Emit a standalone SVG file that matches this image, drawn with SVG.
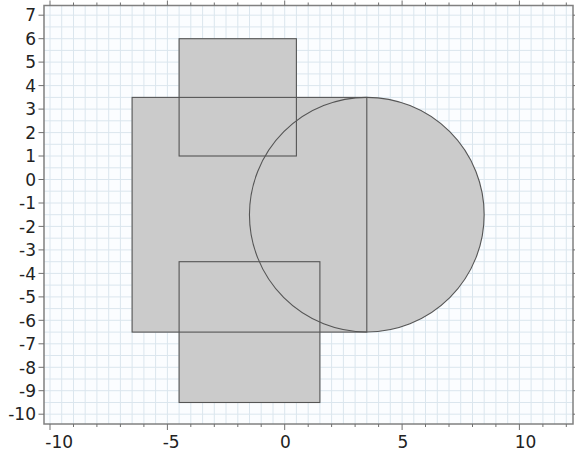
<svg xmlns="http://www.w3.org/2000/svg" width="575" height="452" viewBox="0 0 575 452">
<style>
.grid{stroke:#dbe6ee;stroke-width:1;fill:none}
.tick{stroke:#707070;stroke-width:1;fill:none}
.frame{stroke:#808080;stroke-width:1.5;fill:none}
.fillg{fill:#cbcbcb;stroke:none}
.edge{fill:none;stroke:#555555;stroke-width:1.1}
.lbl{font-family:"DejaVu Sans",sans-serif;font-size:17px;fill:#222222}
.yl{text-anchor:end}
</style>
<rect x="0" y="0" width="575" height="452" fill="#ffffff"/>
<g id="plot-bg">
<rect x="44" y="5.5" width="529" height="418.5" fill="#fbfdff"/>
<path class="grid" d="M50 5.5V424M61.7 5.5V424M73.5 5.5V424M85.2 5.5V424M96.9 5.5V424M108.7 5.5V424M120.4 5.5V424M132.1 5.5V424M143.9 5.5V424M155.6 5.5V424M167.4 5.5V424M179.1 5.5V424M190.8 5.5V424M202.6 5.5V424M214.3 5.5V424M226 5.5V424M237.8 5.5V424M249.5 5.5V424M261.2 5.5V424M273 5.5V424M284.7 5.5V424M296.4 5.5V424M308.2 5.5V424M319.9 5.5V424M331.6 5.5V424M343.4 5.5V424M355.1 5.5V424M366.8 5.5V424M378.6 5.5V424M390.3 5.5V424M402.1 5.5V424M413.8 5.5V424M425.5 5.5V424M437.3 5.5V424M449 5.5V424M460.7 5.5V424M472.5 5.5V424M484.2 5.5V424M495.9 5.5V424M507.7 5.5V424M519.4 5.5V424M531.1 5.5V424M542.9 5.5V424M554.6 5.5V424M566.3 5.5V424
M44 15.2H573M44 26.9H573M44 38.7H573M44 50.4H573M44 62.1H573M44 73.9H573M44 85.6H573M44 97.4H573M44 109.1H573M44 120.8H573M44 132.6H573M44 144.3H573M44 156H573M44 167.8H573M44 179.5H573M44 191.2H573M44 203H573M44 214.7H573M44 226.4H573M44 238.2H573M44 249.9H573M44 261.7H573M44 273.4H573M44 285.1H573M44 296.9H573M44 308.6H573M44 320.3H573M44 332.1H573M44 343.8H573M44 355.5H573M44 367.3H573M44 379H573M44 390.7H573M44 402.5H573M44 414.2H573"/>
</g>
<g id="shapes-fill">
<rect class="fillg" x="132.1" y="97.4" width="234.7" height="234.7"/>
<rect class="fillg" x="179.1" y="38.7" width="117.3" height="117.3"/>
<rect class="fillg" x="179.1" y="261.7" width="140.8" height="140.8"/>
<circle class="fillg" cx="366.8" cy="214.7" r="117.35"/>
</g>
<g id="square">
<rect class="edge" x="132.1" y="97.4" width="234.7" height="234.7"/>
</g>
<g id="rect-top">
<rect class="edge" x="179.1" y="38.7" width="117.3" height="117.3"/>
</g>
<g id="rect-bottom">
<rect class="edge" x="179.1" y="261.7" width="140.8" height="140.8"/>
</g>
<g id="circle">
<circle class="edge" cx="366.8" cy="214.7" r="117.35"/>
</g>
<g id="axes">
<rect class="frame" x="44" y="5.5" width="529" height="418.5"/>
<path class="tick" d="M38.5 15.2H44M38.5 38.7H44M38.5 62.1H44M38.5 85.6H44M38.5 109.1H44M38.5 132.6H44M38.5 156H44M38.5 179.5H44M38.5 203H44M38.5 226.4H44M38.5 249.9H44M38.5 273.4H44M38.5 296.9H44M38.5 320.3H44M38.5 343.8H44M38.5 367.3H44M38.5 390.7H44M38.5 414.2H44
M573 15.2H577M573 38.7H577M573 62.1H577M573 85.6H577M573 109.1H577M573 132.6H577M573 156H577M573 179.5H577M573 203H577M573 226.4H577M573 249.9H577M573 273.4H577M573 296.9H577M573 320.3H577M573 343.8H577M573 367.3H577M573 390.7H577M573 414.2H577
M50 424V430M167.4 424V430M284.7 424V430M402.1 424V430M519.4 424V430
M73.5 424V427M96.9 424V427M120.4 424V427M143.9 424V427M190.8 424V427M214.3 424V427M237.8 424V427M261.2 424V427M308.2 424V427M331.6 424V427M355.1 424V427M378.6 424V427M425.5 424V427M449 424V427M472.5 424V427M495.9 424V427M542.9 424V427M566.3 424V427
M50 5.5V0.5M167.4 5.5V0.5M284.7 5.5V0.5M402.1 5.5V0.5M519.4 5.5V0.5
M73.5 5.5V2.5M96.9 5.5V2.5M120.4 5.5V2.5M143.9 5.5V2.5M190.8 5.5V2.5M214.3 5.5V2.5M237.8 5.5V2.5M261.2 5.5V2.5M308.2 5.5V2.5M331.6 5.5V2.5M355.1 5.5V2.5M378.6 5.5V2.5M425.5 5.5V2.5M449 5.5V2.5M472.5 5.5V2.5M495.9 5.5V2.5M542.9 5.5V2.5M566.3 5.5V2.5"/>
<g class="lbl yl">
<text x="36" y="21.4">7</text>
<text x="36" y="44.9">6</text>
<text x="36" y="68.3">5</text>
<text x="36" y="91.8">4</text>
<text x="36" y="115.3">3</text>
<text x="36" y="138.8">2</text>
<text x="36" y="162.2">1</text>
<text x="36" y="185.7">0</text>
<text x="36" y="209.2">-1</text>
<text x="36" y="232.6">-2</text>
<text x="36" y="256.1">-3</text>
<text x="36" y="279.6">-4</text>
<text x="36" y="303.1">-5</text>
<text x="36" y="326.5">-6</text>
<text x="36" y="350">-7</text>
<text x="36" y="373.5">-8</text>
<text x="36" y="396.9">-9</text>
<text x="36" y="420.4">-10</text>
</g>
<g class="lbl">
<text x="45.3" y="448">-10</text>
<text x="162.7" y="448">-5</text>
<text x="280" y="448">0</text>
<text x="397.4" y="448">5</text>
<text x="514.7" y="448">10</text>
</g>
</g>
</svg>
